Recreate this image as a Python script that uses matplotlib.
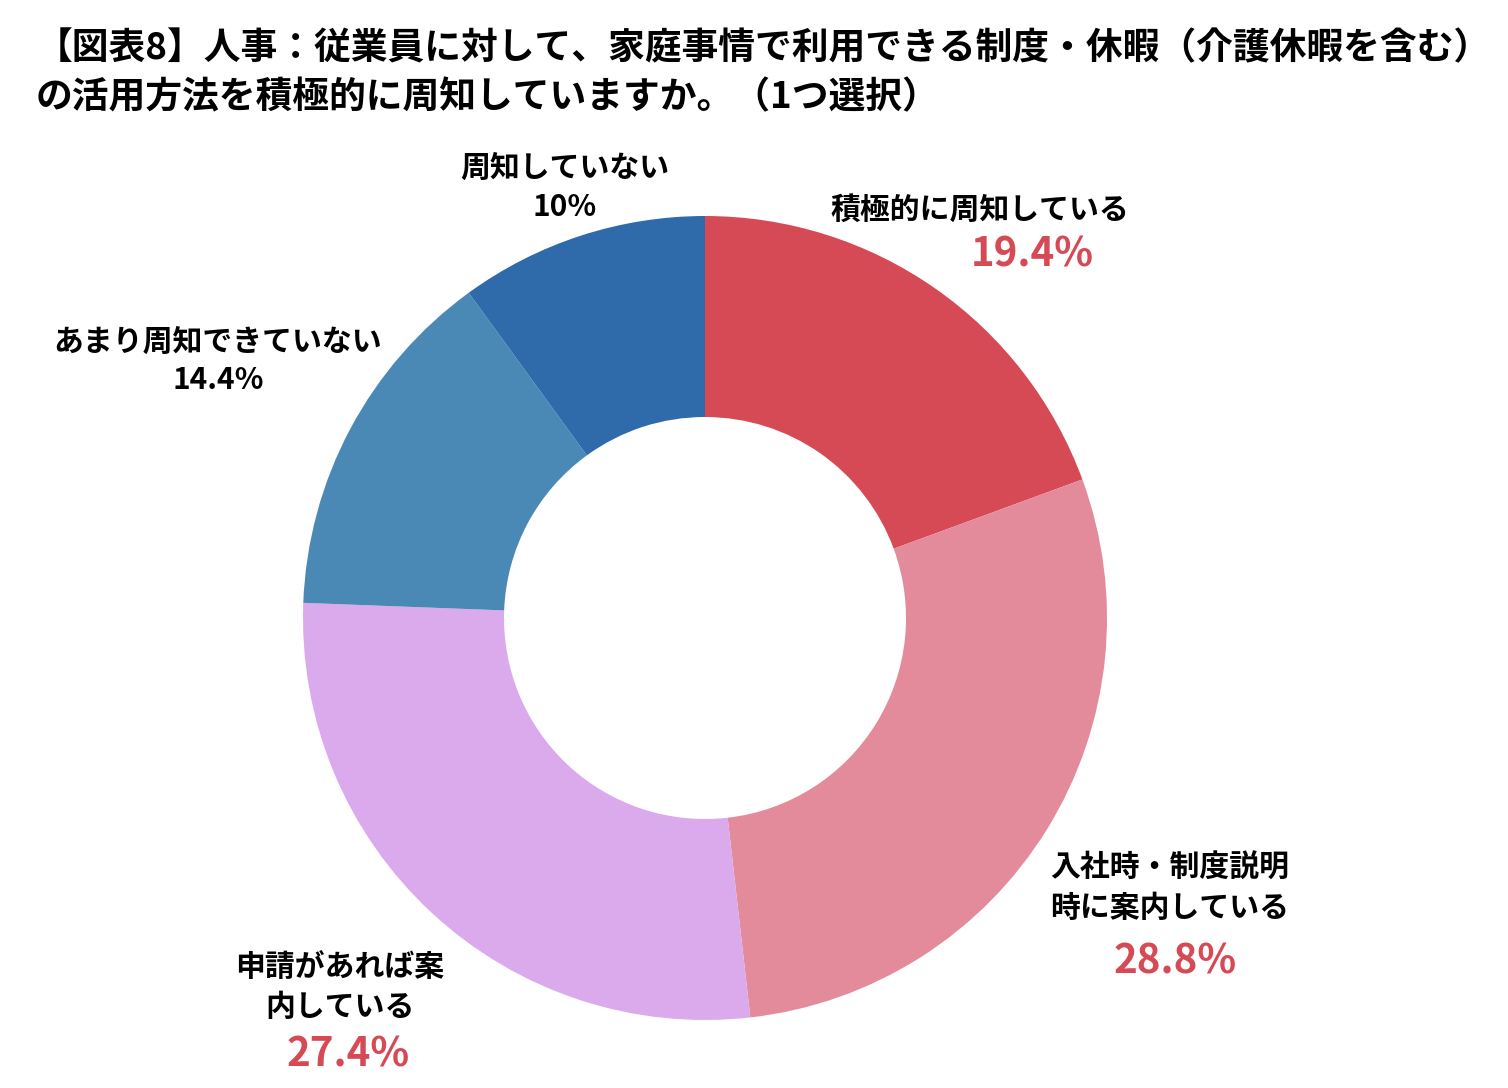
import matplotlib
matplotlib.use("Agg")
from matplotlib import pyplot as plt

plt.rcParams['font.family'] = ['Noto Sans CJK JP', 'DejaVu Sans']

# データ（時計回り、上から）
labels = ['積極的に周知している', '入社時・制度説明\n時に案内している', '申請があれば案\n内している',
          'あまり周知できていない', '周知していない']
values = [19.4, 28.8, 27.4, 14.4, 10]
pct_text = ['19.4%', '28.8%', '27.4%', '14.4%', '10%']
colors = ['#D64A56', '#E38A9B', '#DAAAEC', '#4A89B5', '#2F6BAA']

title = '【図表8】人事：従業員に対して、家庭事情で利用できる制度・休暇（介護休暇を含む）\nの活用方法を積極的に周知していますか。（1つ選択）'

W, H = 1508, 1088
fig = plt.figure(figsize=(W / 100, H / 100), dpi=100)
cx, cy, r = 705, 618, 402
ax = fig.add_axes([(cx - r) / W, (H - cy - r) / H, 2 * r / W, 2 * r / H])
ax.pie(values, colors=colors, startangle=90, counterclock=False, radius=1,
       wedgeprops=dict(width=0.5, edgecolor='none'))
ax.set_xlim(-1, 1)
ax.set_ylim(-1, 1)
ax.set_aspect('equal')
ax.axis('off')


def px(x, y):
    return (x - cx) / r, (cy - y) / r


# ラベル位置（ピクセル）: 名前, 割合, 割合を強調するか
lab_pos = [((980, 210), (1032, 255), True),
           ((1170, 888), (1175, 962), True),
           ((340, 987), (348, 1055), True),
           ((218, 342), (218, 380), False),
           ((565, 168), (565, 207), False)]

for lab, pct, (lp, pp, big) in zip(labels, pct_text, lab_pos):
    ax.text(*px(*lp), lab, ha='center', va='center', fontsize=21.5, fontweight='bold',
            linespacing=1.4, clip_on=False)
    if big:
        ax.text(*px(*pp), pct, ha='center', va='center', fontsize=29, fontweight='bold',
                color='#D64A56', clip_on=False)
    else:
        ax.text(*px(*pp), pct, ha='center', va='center', fontsize=21.5, fontweight='bold',
                clip_on=False)

fig.text(36 / W, 1 - 30 / H, title, ha='left', va='top', fontsize=26.5, fontweight='bold',
         linespacing=1.42)

fig.savefig('out.png', dpi=100)
